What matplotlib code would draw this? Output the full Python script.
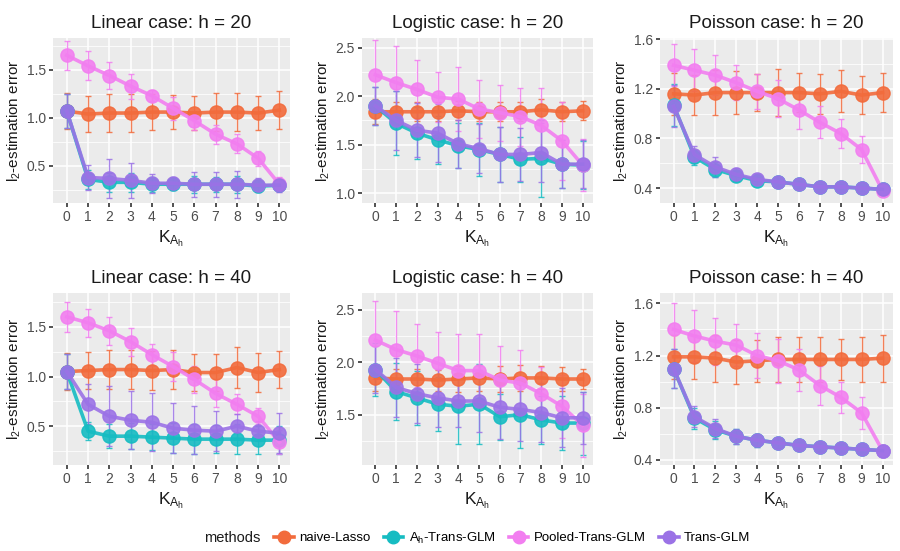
import matplotlib
matplotlib.use('Agg')
import matplotlib.pyplot as plt
from matplotlib.lines import Line2D
from matplotlib.ticker import MultipleLocator

plt.rcParams['font.family'] = ['Liberation Sans', 'DejaVu Sans']
plt.rcParams['mathtext.fontset'] = 'custom'
plt.rcParams['mathtext.rm'] = 'Liberation Sans'
plt.rcParams['mathtext.it'] = 'Liberation Sans'

k = list(range(11))

methods = ['naive-Lasso', r'A$_\mathregular{h}$-Trans-GLM', 'Pooled-Trans-GLM', 'Trans-GLM']
colors = ['#F26B3C', '#16BCC2', '#F27EF0', '#9B72E6']

# Linear case h = 20
lin20_naive = [1.07, 1.04, 1.05, 1.05, 1.06, 1.06, 1.05, 1.06, 1.06, 1.05, 1.08]
lin20_naive_sd = [0.19, 0.19, 0.2, 0.2, 0.19, 0.18, 0.18, 0.2, 0.2, 0.18, 0.2]
lin20_ah = [1.07, 0.36, 0.33, 0.33, 0.31, 0.31, 0.31, 0.31, 0.31, 0.29, 0.30]
lin20_ah_sd = [0.18, 0.1, 0.1, 0.1, 0.08, 0.06, 0.09, 0.08, 0.09, 0.06, 0.06]
lin20_pool = [1.65, 1.54, 1.44, 1.33, 1.23, 1.10, 0.97, 0.83, 0.73, 0.58, 0.31]
lin20_pool_sd = [0.15, 0.15, 0.14, 0.13, 0.06, 0.12, 0.1, 0.1, 0.1, 0.08, 0.08]
lin20_trans = [1.07, 0.38, 0.37, 0.35, 0.32, 0.32, 0.31, 0.31, 0.31, 0.30, 0.30]
lin20_trans_sd = [0.18, 0.13, 0.2, 0.18, 0.1, 0.07, 0.13, 0.13, 0.14, 0.07, 0.07]

# Logistic case h = 20
log20_naive = [1.84, 1.84, 1.84, 1.84, 1.85, 1.84, 1.84, 1.84, 1.86, 1.84, 1.85]
log20_naive_sd = [0.13, 0.1, 0.1, 0.1, 0.1, 0.1, 0.1, 0.1, 0.11, 0.1, 0.1]
log20_ah = [1.90, 1.72, 1.62, 1.55, 1.49, 1.45, 1.40, 1.35, 1.36, 1.30, 1.29]
log20_ah_sd = [0.2, 0.33, 0.27, 0.25, 0.23, 0.27, 0.28, 0.23, 0.4, 0.25, 0.25]
log20_pool = [2.22, 2.14, 2.07, 1.99, 1.97, 1.87, 1.83, 1.79, 1.70, 1.54, 1.29]
log20_pool_sd = [0.36, 0.38, 0.3, 0.26, 0.33, 0.3, 0.29, 0.3, 0.38, 0.4, 0.27]
log20_trans = [1.90, 1.75, 1.65, 1.62, 1.51, 1.46, 1.40, 1.40, 1.42, 1.30, 1.30]
log20_trans_sd = [0.2, 0.3, 0.28, 0.3, 0.25, 0.25, 0.28, 0.27, 0.3, 0.25, 0.25]

# Poisson case h = 20
poi20_naive = [1.16, 1.15, 1.17, 1.17, 1.17, 1.17, 1.17, 1.16, 1.18, 1.15, 1.17]
poi20_naive_sd = [0.17, 0.16, 0.18, 0.17, 0.15, 0.19, 0.16, 0.16, 0.17, 0.15, 0.16]
poi20_ah = [1.07, 0.65, 0.55, 0.50, 0.46, 0.45, 0.43, 0.41, 0.41, 0.40, 0.39]
poi20_ah_sd = [0.17, 0.06, 0.06, 0.04, 0.03, 0.03, 0.03, 0.02, 0.02, 0.02, 0.02]
poi20_pool = [1.39, 1.35, 1.31, 1.25, 1.18, 1.12, 1.03, 0.93, 0.84, 0.71, 0.38]
poi20_pool_sd = [0.17, 0.17, 0.16, 0.14, 0.14, 0.15, 0.15, 0.13, 0.12, 0.11, 0.02]
poi20_trans = [1.06, 0.67, 0.57, 0.51, 0.47, 0.45, 0.43, 0.41, 0.41, 0.40, 0.39]
poi20_trans_sd = [0.17, 0.07, 0.08, 0.05, 0.04, 0.03, 0.03, 0.02, 0.02, 0.02, 0.02]

# Linear case h = 40
lin40_naive = [1.05, 1.06, 1.07, 1.07, 1.06, 1.07, 1.04, 1.04, 1.09, 1.04, 1.07]
lin40_naive_sd = [0.19, 0.19, 0.2, 0.2, 0.2, 0.2, 0.19, 0.19, 0.21, 0.2, 0.19]
lin40_ah = [1.05, 0.45, 0.40, 0.40, 0.39, 0.38, 0.37, 0.37, 0.37, 0.36, 0.36]
lin40_ah_sd = [0.18, 0.09, 0.12, 0.13, 0.13, 0.15, 0.15, 0.14, 0.15, 0.14, 0.14]
lin40_pool = [1.60, 1.54, 1.46, 1.35, 1.22, 1.10, 0.97, 0.83, 0.72, 0.60, 0.34]
lin40_pool_sd = [0.15, 0.14, 0.14, 0.14, 0.11, 0.15, 0.14, 0.14, 0.1, 0.08, 0.12]
lin40_trans = [1.05, 0.72, 0.60, 0.56, 0.54, 0.48, 0.46, 0.45, 0.50, 0.45, 0.43]
lin40_trans_sd = [0.18, 0.2, 0.3, 0.29, 0.29, 0.25, 0.24, 0.2, 0.12, 0.1, 0.2]

# Logistic case h = 40
log40_naive = [1.85, 1.84, 1.84, 1.83, 1.84, 1.85, 1.84, 1.85, 1.85, 1.84, 1.84]
log40_naive_sd = [0.12, 0.1, 0.1, 0.1, 0.12, 0.12, 0.12, 0.12, 0.11, 0.11, 0.1]
log40_ah = [1.93, 1.72, 1.66, 1.60, 1.58, 1.60, 1.48, 1.50, 1.45, 1.42, 1.42]
log40_ah_sd = [0.25, 0.27, 0.26, 0.26, 0.36, 0.38, 0.22, 0.32, 0.23, 0.26, 0.3]
log40_pool = [2.21, 2.12, 2.06, 1.99, 1.92, 1.92, 1.83, 1.80, 1.70, 1.58, 1.40]
log40_pool_sd = [0.37, 0.37, 0.3, 0.3, 0.35, 0.35, 0.32, 0.32, 0.25, 0.3, 0.3]
log40_trans = [1.93, 1.76, 1.70, 1.66, 1.63, 1.63, 1.57, 1.55, 1.52, 1.47, 1.47]
log40_trans_sd = [0.22, 0.28, 0.28, 0.28, 0.25, 0.3, 0.3, 0.3, 0.28, 0.28, 0.25]

# Poisson case h = 40
poi40_naive = [1.19, 1.19, 1.18, 1.15, 1.16, 1.17, 1.17, 1.17, 1.17, 1.17, 1.18]
poi40_naive_sd = [0.17, 0.17, 0.18, 0.17, 0.16, 0.17, 0.17, 0.17, 0.16, 0.17, 0.18]
poi40_ah = [1.10, 0.72, 0.63, 0.58, 0.55, 0.53, 0.51, 0.50, 0.49, 0.48, 0.47]
poi40_ah_sd = [0.15, 0.08, 0.07, 0.06, 0.05, 0.04, 0.03, 0.03, 0.03, 0.02, 0.02]
poi40_pool = [1.40, 1.35, 1.31, 1.28, 1.20, 1.16, 1.09, 0.97, 0.88, 0.76, 0.47]
poi40_pool_sd = [0.2, 0.2, 0.18, 0.16, 0.17, 0.17, 0.16, 0.15, 0.12, 0.12, 0.03]
poi40_trans = [1.10, 0.73, 0.64, 0.58, 0.55, 0.53, 0.51, 0.50, 0.49, 0.48, 0.47]
poi40_trans_sd = [0.15, 0.08, 0.07, 0.06, 0.05, 0.04, 0.03, 0.03, 0.03, 0.02, 0.02]

panels = [
    ('Linear case: h = 20', [lin20_naive, lin20_ah, lin20_pool, lin20_trans],
     [lin20_naive_sd, lin20_ah_sd, lin20_pool_sd, lin20_trans_sd], (0.115, 1.83), 0.5),
    ('Logistic case: h = 20', [log20_naive, log20_ah, log20_pool, log20_trans],
     [log20_naive_sd, log20_ah_sd, log20_pool_sd, log20_trans_sd], (0.9, 2.6), 0.5),
    ('Poisson case: h = 20', [poi20_naive, poi20_ah, poi20_pool, poi20_trans],
     [poi20_naive_sd, poi20_ah_sd, poi20_pool_sd, poi20_trans_sd], (0.28, 1.61), 0.4),
    ('Linear case: h = 40', [lin40_naive, lin40_ah, lin40_pool, lin40_trans],
     [lin40_naive_sd, lin40_ah_sd, lin40_pool_sd, lin40_trans_sd], (0.11, 1.84), 0.5),
    ('Logistic case: h = 40', [log40_naive, log40_ah, log40_pool, log40_trans],
     [log40_naive_sd, log40_ah_sd, log40_pool_sd, log40_trans_sd], (1.02, 2.66), 0.5),
    ('Poisson case: h = 40', [poi40_naive, poi40_ah, poi40_pool, poi40_trans],
     [poi40_naive_sd, poi40_ah_sd, poi40_pool_sd, poi40_trans_sd], (0.36, 1.68), 0.4),
]

fig = plt.figure(figsize=(9, 5.51), dpi=100)
fig.patch.set_facecolor('white')

lefts = [53, 362, 660]
widths = [237, 231, 233]
rows = [(38, 203), (293, 465)]

for i, (title, means, sds, ylim, step) in enumerate(panels):
    r, c = divmod(i, 3)
    top, bot = rows[r]
    ax = fig.add_axes([lefts[c] / 900, 1 - bot / 551, widths[c] / 900, (bot - top) / 551])
    ax.set_facecolor('#EBEBEB')
    for s in ax.spines.values():
        s.set_visible(False)
    ax.set_axisbelow(True)
    ax.yaxis.set_major_locator(MultipleLocator(step))
    ax.yaxis.set_minor_locator(MultipleLocator(step / 2))
    ax.set_xticks(k)
    ax.grid(True, which='major', color='white', lw=1.1)
    ax.grid(True, which='minor', axis='y', color='white', lw=0.55)
    ax.tick_params(which='minor', length=0)
    ax.tick_params(which='major', length=3, width=1.2, color='#333333',
                   labelcolor='#4D4D4D', labelsize=10, pad=2)
    for m in range(4):
        ax.errorbar(k, means[m], yerr=sds[m], fmt='none', ecolor=colors[m],
                    elinewidth=1.0, capsize=2.5, capthick=1.0, alpha=0.85, zorder=2)
    for m in range(4):
        ax.plot(k, means[m], color=colors[m], lw=2.6, marker='o', ms=9.5,
                alpha=0.9, zorder=3)
    ax.set_xlim(-0.65, 10.5)
    ax.set_ylim(*ylim)
    ax.set_title(title, fontsize=13.5, color='#1A1A1A', pad=7)
    ax.set_ylabel(r'l$_2$-estimation error', fontsize=11, color='#1A1A1A', labelpad=3)
    ax.set_xlabel(r'K$_{\mathregular{A_h}}$', fontsize=12.5, color='#1A1A1A', labelpad=3)

fig.text(204 / 900, 1 - 538 / 551, 'methods', fontsize=10.5, color='#1A1A1A', va='center')
handles = [Line2D([], [], color=colors[m], lw=2.6, marker='o', ms=9) for m in range(4)]
fig.legend(handles, methods, loc='center left', bbox_to_anchor=(274 / 900, 1 - 538 / 551),
           ncol=4, frameon=False, fontsize=9.5, handlelength=1.5, handletextpad=0.4,
           columnspacing=1.0, borderaxespad=0, borderpad=0)

fig.savefig('out.png', dpi=100)
